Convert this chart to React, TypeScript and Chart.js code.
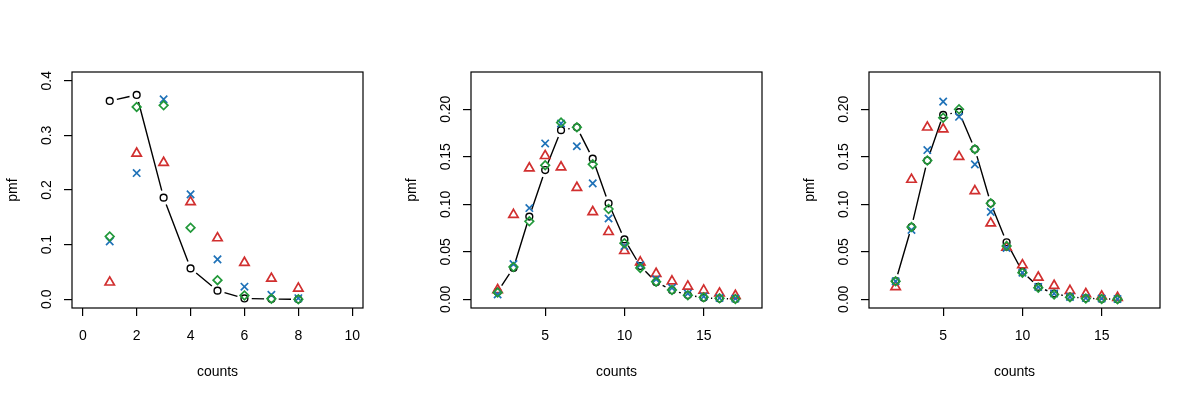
import React, { useEffect, useRef } from "react";
import { Chart, registerables } from "chart.js";

Chart.register(...registerables);

// ---------- data ----------
const counts1 = [1, 2, 3, 4, 5, 6, 7, 8];
const black1 = [0.363, 0.374, 0.186, 0.0565, 0.0158, 0.0015, 0.0003, 0.0];
const red1 = [0.031, 0.267, 0.25, 0.178, 0.112, 0.067, 0.038, 0.02];
const blue1 = [0.106, 0.231, 0.366, 0.192, 0.073, 0.023, 0.008, 0.002];
const green1 = [0.115, 0.352, 0.355, 0.131, 0.035, 0.007, 0.001, 0.0];

const counts2 = [2, 3, 4, 5, 6, 7, 8, 9, 10, 11, 12, 13, 14, 15, 16, 17];
const black2 = [0.008, 0.033, 0.087, 0.136, 0.178, 0.181, 0.148, 0.101, 0.063, 0.035, 0.018, 0.0095, 0.0045, 0.0015, 0.0007, 0.0003];
const red2 = [0.0098, 0.089, 0.138, 0.151, 0.139, 0.1175, 0.092, 0.071, 0.051, 0.039, 0.027, 0.019, 0.0136, 0.0094, 0.0063, 0.0038];
const blue2 = [0.005, 0.037, 0.096, 0.164, 0.185, 0.161, 0.122, 0.085, 0.056, 0.036, 0.021, 0.012, 0.006, 0.003, 0.0014, 0.0007];
const green2 = [0.007, 0.034, 0.082, 0.141, 0.186, 0.181, 0.142, 0.095, 0.059, 0.033, 0.0185, 0.0098, 0.0042, 0.002, 0.001, 0.0003];

const counts3 = [2, 3, 4, 5, 6, 7, 8, 9, 10, 11, 12, 13, 14, 15, 16];
const black3 = [0.019, 0.076, 0.146, 0.194, 0.197, 0.158, 0.101, 0.06, 0.029, 0.013, 0.006, 0.0025, 0.001, 0.0004, 0.0001];
const red3 = [0.013, 0.126, 0.181, 0.179, 0.15, 0.114, 0.08, 0.0545, 0.036, 0.023, 0.0143, 0.009, 0.0056, 0.0031, 0.0017];
const blue3 = [0.019, 0.073, 0.157, 0.208, 0.192, 0.142, 0.092, 0.054, 0.028, 0.013, 0.006, 0.0025, 0.0014, 0.0007, 0.0003];
const green3 = [0.019, 0.076, 0.146, 0.191, 0.2, 0.158, 0.101, 0.056, 0.028, 0.012, 0.005, 0.002, 0.0007, 0.0003, 0.0001];

const xTicks1 = [0, 2, 4, 6, 8, 10];
const yTicks1 = [0, 0.1, 0.2, 0.3, 0.4];
const xTicks23 = [5, 10, 15];
const yTicks23 = [0, 0.05, 0.1, 0.15, 0.2];

const xLabel = "counts";
const yLabel = "pmf";

const RED = "#d12f2f";
const BLUE = "#1f72b8";
const GREEN = "#22993a";
const BLACK = "#000000";

const FONT = "'Liberation Sans', Arial, Helvetica, sans-serif";
const FONT_SIZE = 14;
const GAP = 7.3;

type Panel = {
  counts: number[];
  black: number[];
  red: number[];
  blue: number[];
  green: number[];
  xTicks: number[];
  yTicks: number[];
  xMin: number;
  xMax: number;
  yMin: number;
  yMax: number;
  yDecimals: number;
  yPad: number;
  left: number;
};

const panels: Panel[] = [
  { counts: counts1, black: black1, red: red1, blue: blue1, green: green1, xTicks: xTicks1, yTicks: yTicks1, xMin: -0.4, xMax: 10.4, yMin: -0.016, yMax: 0.416, yDecimals: 1, yPad: 7.3, left: 0 },
  { counts: counts2, black: black2, red: red2, blue: blue2, green: green2, xTicks: xTicks23, yTicks: yTicks23, xMin: 0.32, xMax: 18.68, yMin: -0.0092, yMax: 0.2392, yDecimals: 2, yPad: 3.4, left: 399 },
  { counts: counts3, black: black3, red: red3, blue: blue3, green: green3, xTicks: xTicks23, yTicks: yTicks23, xMin: 0.32, xMax: 18.68, yMin: -0.0092, yMax: 0.2392, yDecimals: 2, yPad: 3.4, left: 797 },
];

const rStyle = {
  id: "rStyle",
  beforeDatasetsDraw(chart: any) {
    const meta = chart.getDatasetMeta(0);
    const pts = meta.data;
    const ctx = chart.ctx;
    ctx.save();
    ctx.strokeStyle = BLACK;
    ctx.lineWidth = 1.4;
    ctx.beginPath();
    for (let i = 0; i < pts.length - 1; i++) {
      const a = pts[i];
      const b = pts[i + 1];
      const dx = b.x - a.x;
      const dy = b.y - a.y;
      const d = Math.hypot(dx, dy);
      if (d <= 2 * GAP) continue;
      const ux = dx / d;
      const uy = dy / d;
      ctx.moveTo(a.x + ux * GAP, a.y + uy * GAP);
      ctx.lineTo(b.x - ux * GAP, b.y - uy * GAP);
    }
    ctx.stroke();
    ctx.restore();
  },
  afterDraw(chart: any) {
    const { left, top, right, bottom } = chart.chartArea;
    const ctx = chart.ctx;
    ctx.save();
    ctx.strokeStyle = BLACK;
    ctx.lineWidth = 1.2;
    ctx.strokeRect(left, top, right - left, bottom - top);
    ctx.restore();
  },
};

function toPts(xs: number[], ys: number[]) {
  return xs.map((x, i) => ({ x, y: ys[i] }));
}

function PanelChart({ p }: { p: Panel }) {
  const ref = useRef<HTMLCanvasElement | null>(null);
  useEffect(() => {
    if (!ref.current) return;
    const common = { showLine: false, pointBackgroundColor: "rgba(0,0,0,0)", backgroundColor: "rgba(0,0,0,0)" };
    const chart = new Chart(ref.current, {
      type: "scatter",
      data: {
        datasets: [
          { ...common, label: "black", data: toPts(p.counts, p.black), pointStyle: "circle", pointRadius: 3.4, pointBorderWidth: 1.4, pointBorderColor: BLACK, borderColor: BLACK, order: 4 },
          { ...common, label: "red", data: toPts(p.counts, p.red), pointStyle: "triangle", pointRadius: 5.4, pointBorderWidth: 1.7, pointBorderColor: RED, borderColor: RED, order: 3 },
          { ...common, label: "blue", data: toPts(p.counts, p.blue), pointStyle: "crossRot", pointRadius: 5.2, pointBorderWidth: 1.7, pointBorderColor: BLUE, borderColor: BLUE, order: 2 },
          { ...common, label: "green", data: toPts(p.counts, p.green), pointStyle: "rectRot", pointRadius: 4.3, pointBorderWidth: 1.7, pointBorderColor: GREEN, borderColor: GREEN, order: 1 },
        ],
      } as any,
      options: {
        animation: false,
        responsive: false,
        devicePixelRatio: 1,
        events: [],
        layout: { padding: { top: 72, right: 36, left: 0, bottom: 0 } },
        plugins: { legend: { display: false }, tooltip: { enabled: false } },
        scales: {
          x: {
            type: "linear",
            min: p.xMin,
            max: p.xMax,
            afterBuildTicks: (scale: any) => {
              scale.ticks = p.xTicks.map((v) => ({ value: v }));
            },
            afterFit: (scale: any) => {
              scale.height = 91;
            },
            grid: { display: true, drawOnChartArea: false, drawTicks: true, tickLength: 8, color: BLACK, lineWidth: 1.2 },
            border: { display: false },
            ticks: {
              color: BLACK,
              font: { family: FONT, size: FONT_SIZE },
              padding: 11.6,
              maxRotation: 0,
              minRotation: 0,
              autoSkip: false,
              callback: (v: any) => String(v),
            },
            title: { display: true, text: xLabel, color: BLACK, font: { family: FONT, size: FONT_SIZE }, padding: { top: 0, bottom: 18.6 } },
          },
          y: {
            type: "linear",
            min: p.yMin,
            max: p.yMax,
            afterBuildTicks: (scale: any) => {
              scale.ticks = p.yTicks.map((v) => ({ value: v }));
            },
            afterFit: (scale: any) => {
              scale.width = 72;
            },
            grid: { display: true, drawOnChartArea: false, drawTicks: true, tickLength: 8, color: BLACK, lineWidth: 1.2 },
            border: { display: false },
            ticks: {
              color: BLACK,
              font: { family: FONT, size: FONT_SIZE },
              padding: p.yPad,
              minRotation: 90,
              maxRotation: 90,
              crossAlign: "center",
              autoSkip: false,
              callback: (v: any) => Number(v).toFixed(p.yDecimals),
            },
            title: { display: true, text: yLabel, color: BLACK, font: { family: FONT, size: FONT_SIZE }, padding: { top: 4.6, bottom: 0 } },
          },
        },
      } as any,
      plugins: [rStyle],
    });
    return () => chart.destroy();
  }, [p]);
  return (
    <canvas
      ref={ref}
      width={399}
      height={399}
      style={{ position: "absolute", left: p.left, top: 0, width: 399, height: 399 }}
    />
  );
}

export default function App() {
  return (
    <div style={{ position: "fixed", left: 0, top: 0, width: 1196, height: 399, background: "#ffffff", overflow: "hidden" }}>
      {panels.map((p, i) => (
        <PanelChart key={i} p={p} />
      ))}
    </div>
  );
}
